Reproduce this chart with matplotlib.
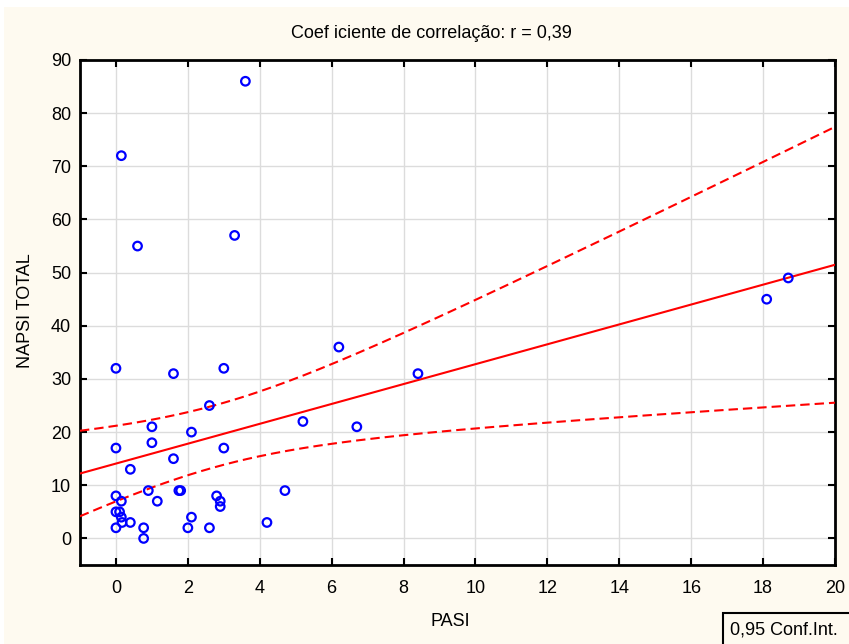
import numpy as np
import matplotlib
matplotlib.use("Agg")
import matplotlib.pyplot as plt
from matplotlib.patches import Rectangle

plt.rcParams['font.family'] = ['Liberation Sans', 'DejaVu Sans']

pasi = [0, 1.6, 3.0, 6.2, 2.6, 1.0, 2.1, 5.2, 0, 1.0, 3.0, 1.6, 0.4, 0, 0.15,
        0.9, 1.15, 1.75, 1.8, 2.8, 2.9, 2.9, 4.7, 0, 0.1, 0.15, 0.17, 0.4, 0,
        0.77, 0.77, 2.1, 2.0, 2.6, 4.2, 3.6, 0.15, 0.6, 3.3, 8.4, 6.7, 18.1, 18.7]
napsi = [32, 31, 32, 36, 25, 21, 20, 22, 17, 18, 17, 15, 13, 8, 7,
         9, 7, 9, 9, 8, 7, 6, 9, 5, 5, 4, 3, 3, 2,
         2, 0, 4, 2, 2, 3, 86, 72, 55, 57, 31, 21, 45, 49]
xticks = [0, 2, 4, 6, 8, 10, 12, 14, 16, 18, 20]
yticks = [0, 10, 20, 30, 40, 50, 60, 70, 80, 90]
title = "Coef iciente de correlação: r = 0,39"

x = np.array(pasi, float)
y = np.array(napsi, float)
n = len(x)
b, a = np.polyfit(x, y, 1)
xs = np.linspace(-1, 20, 200)
fit = a + b * xs
resid = y - (a + b * x)
s = np.sqrt(np.sum(resid ** 2) / (n - 2))
sxx = np.sum((x - x.mean()) ** 2)
tval = 2.0195
half = tval * s * np.sqrt(1 / n + (xs - x.mean()) ** 2 / sxx)

fig = plt.figure(figsize=(8.49, 6.44), dpi=100, facecolor='white')
W, H = 849, 644
fig.patches.append(Rectangle((4 / W, 0), 1, 637 / H, transform=fig.transFigure,
                             facecolor='#FEFAF0', edgecolor='none', zorder=-10))
ax = fig.add_axes([80 / W, (H - 565) / H, (835 - 80) / W, (565 - 60) / H])
ax.set_facecolor('white')

ax.grid(True, color='#DCDCDC', linewidth=1.0, zorder=0)
ax.plot(xs, fit, color='#FF0000', linewidth=1.5, zorder=3)
ax.plot(xs, fit + half, color='#FF0000', linewidth=1.5, dashes=(4.5, 2.4), zorder=3)
ax.plot(xs, fit - half, color='#FF0000', linewidth=1.5, dashes=(4.5, 2.4), zorder=3)
ax.scatter(x, y, s=38, facecolors='none', edgecolors='#0000FF', linewidths=1.6, zorder=4)

ax.set_xlim(-1, 20)
ax.set_ylim(-5, 90)
ax.set_xticks(xticks)
ax.set_yticks(yticks)
ax.tick_params(direction='in', length=5, width=1.5, top=True, right=True,
               labelsize=13, colors='black')
ax.tick_params(axis='y', pad=6.5)
ax.tick_params(axis='x', pad=10.5)
for sp in ax.spines.values():
    sp.set_linewidth(2)
    sp.set_color('black')

fig.text(450 / W, 1 - 622 / H, 'PASI', ha='center', va='center', fontsize=13)
fig.text(26 / W, 1 - 311 / H, 'NAPSI TOTAL', ha='center', va='center',
         rotation=90, fontsize=13)
fig.text(431 / W, 1 - 33 / H, title, ha='center', va='center', fontsize=13)

fig.patches.append(Rectangle((723 / W, -0.01), 0.5, (644 - 613) / H + 0.01,
                             transform=fig.transFigure, facecolor='none',
                             edgecolor='black', linewidth=1.5, zorder=5))
fig.text(730 / W, 1 - 630 / H, '0,95 Conf.Int.', ha='left', va='center', fontsize=13)

fig.savefig('out.png', dpi=100, facecolor=fig.get_facecolor())
